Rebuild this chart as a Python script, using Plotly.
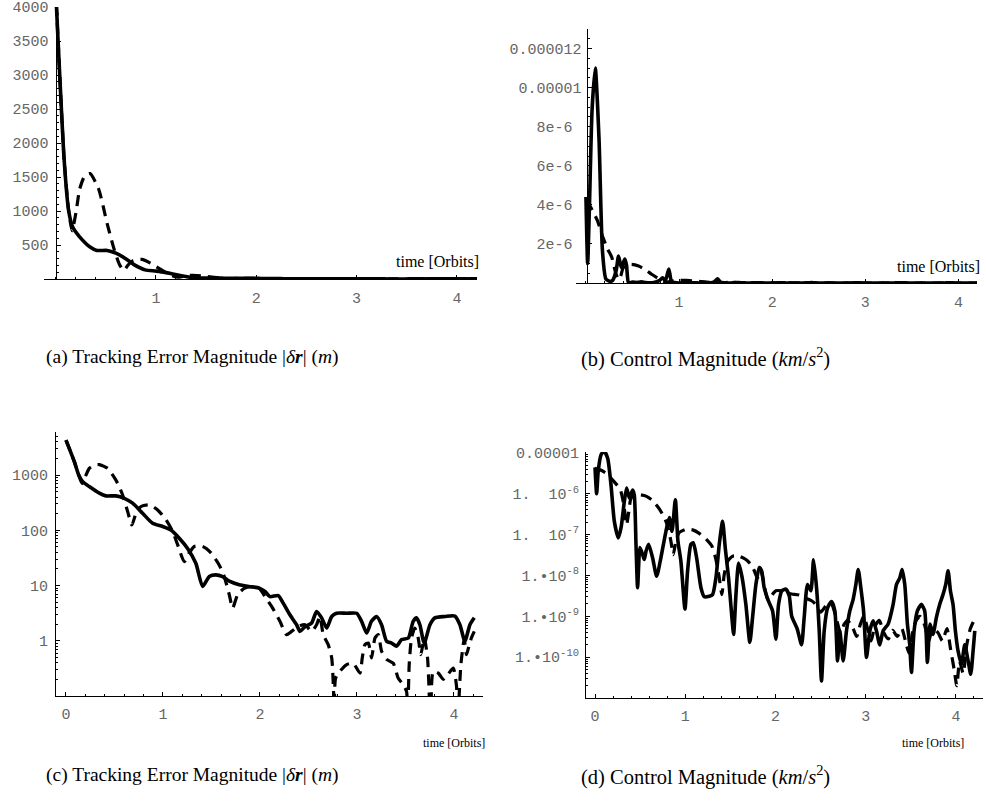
import plotly.graph_objects as go

# ---------------- data ----------------
# Tracking error magnitude |dr| (m) vs time (orbits)
err_solid_t = [0, 0.086, 0.131, 0.172, 0.24, 0.344, 0.412, 0.515, 0.601, 0.687, 0.79, 0.893, 0.997,
               1.082, 1.168, 1.254, 1.34, 1.409, 1.478, 1.546, 1.615, 1.684, 1.787, 1.89, 1.993,
               2.052, 2.103, 2.189, 2.24, 2.309, 2.378, 2.412, 2.464, 2.533, 2.584, 2.636, 2.688,
               2.74, 2.79, 2.894, 2.997, 3.048, 3.1, 3.15, 3.203, 3.254, 3.306, 3.357, 3.409,
               3.461, 3.53, 3.58, 3.615, 3.649, 3.694, 3.753, 3.804, 3.907, 4.01, 4.062, 4.113,
               4.165, 4.21]
err_solid_v = [4300, 1750, 1000, 760, 620, 470, 420, 420, 380, 310, 204, 134, 117,
               101, 72, 47, 25, 9.6, 14.6, 15.6, 14.5, 12, 10.3, 9.6, 9.0,
               7.8, 6.3, 6.6, 4.8, 2.95, 1.95, 1.48, 1.8, 2.1, 3.4, 2.6, 1.7,
               2.75, 3.15, 3.15, 3.15, 2.25, 1.38, 2.25, 2.75, 1.95, 0.98, 0.91, 0.8,
               1.05, 1.12, 2.25, 2.6, 1.95, 0.91, 1.95, 2.6, 2.75, 2.8, 1.95, 0.98,
               1.95, 2.6]

err_dash_t = [0, 0.086, 0.131, 0.165, 0.206, 0.24, 0.292, 0.344, 0.43, 0.515, 0.584, 0.636, 0.68,
              0.722, 0.773, 0.859, 0.945, 1.031, 1.1, 1.151, 1.22, 1.271, 1.323, 1.409, 1.495,
              1.581, 1.632, 1.684, 1.718, 1.77, 1.838, 1.907, 1.993, 2.052, 2.12, 2.206, 2.275,
              2.327, 2.395, 2.464, 2.533, 2.584, 2.618, 2.653, 2.704, 2.74, 2.759, 2.766, 2.78,
              2.825, 2.894, 2.962, 3.031, 3.055, 3.082, 3.117, 3.151, 3.186, 3.22, 3.254, 3.306,
              3.375, 3.426, 3.478, 3.512, 3.522, 3.539, 3.563, 3.597, 3.632, 3.659, 3.694, 3.728,
              3.76, 3.787, 3.839, 3.89, 3.942, 3.993, 4.027, 4.037, 4.072, 4.106, 4.13, 4.154,
              4.18, 4.21]
err_dash_v = [4300, 1750, 1000, 710, 1000, 1320, 1520, 1550, 1320, 810, 436, 218, 125,
              204, 270, 288, 234, 155, 95, 55, 27, 39, 51, 51, 39,
              23.4, 14.5, 6.8, 3.9, 6.8, 8.9, 9.5, 8.9, 6.3, 4.2, 2.25, 1.29,
              1.48, 1.82, 1.95, 1.48, 1.95, 2.75, 1.29, 0.85, 0.49, 0.12, 0.03, 0.21,
              0.28, 0.37, 0.39, 0.26, 0.49, 0.85, 0.91, 0.49, 1.12, 1.29, 0.65, 0.46,
              0.39, 0.21, 0.16, 0.12, 0.03, 0.37, 1.12, 1.7, 1.12, 0.56, 1.12, 0.49,
              0.03, 0.28, 0.26, 0.2, 0.25, 0.32, 0.15, 0.03, 0.37, 1.05, 0.56, 0.79,
              1.12, 1.48]

# Control magnitude (km/s^2) vs time (orbits)
ctl_solid_t = [0, 0.018, 0.035, 0.066, 0.10, 0.14, 0.177, 0.214, 0.258, 0.288, 0.325, 0.35, 0.38,
               0.417, 0.435, 0.454, 0.472, 0.498, 0.528, 0.546, 0.565, 0.594, 0.638, 0.683, 0.73,
               0.786, 0.823, 0.853, 0.89, 0.919, 0.952, 0.997, 1.026, 1.063, 1.089, 1.126, 1.174,
               1.211, 1.266, 1.303, 1.34, 1.377, 1.414, 1.443, 1.48, 1.517, 1.536, 1.562, 1.591,
               1.628, 1.672, 1.716, 1.746, 1.783, 1.82, 1.846, 1.875, 1.924, 1.968, 2.005, 2.034,
               2.071, 2.115, 2.152, 2.18, 2.24, 2.289, 2.318, 2.355, 2.392, 2.422, 2.455, 2.485,
               2.51, 2.54, 2.577, 2.621, 2.658, 2.688, 2.713, 2.75, 2.787, 2.824, 2.861, 2.891,
               2.917, 2.946, 2.976, 3.009, 3.046, 3.083, 3.119, 3.156, 3.193, 3.249, 3.304, 3.341,
               3.378, 3.403, 3.433, 3.462, 3.488, 3.507, 3.536, 3.573, 3.617, 3.654, 3.684, 3.713,
               3.746, 3.783, 3.82, 3.857, 3.887, 3.913, 3.939, 3.968, 3.994, 4.024, 4.061, 4.098,
               4.135, 4.164, 4.19, 4.209]
ctl_solid_v = [4.4e-6, 1.0e-6, 3.5e-6, 8.9e-6, 1.1e-5, 7.4e-6, 1.66e-6, 2.1e-7, 8.3e-8, 1.45e-7,
               6.5e-7, 1.38e-6, 7.9e-7, 1.23e-6, 9.3e-7, 5.8e-8, 5.0e-9, 4.8e-8, 3.2e-8, 2.45e-8,
               3.9e-8, 5.8e-8, 2.7e-8, 9.5e-9, 2.7e-8, 1.2e-7, 2.6e-7, 1.2e-7, 7.1e-7, 6.9e-8,
               2.2e-8, 1.5e-9, 1.3e-8, 5.8e-8, 6.3e-8, 2.7e-8, 5.0e-9, 3.0e-9, 3.1e-9, 3.4e-9,
               8.7e-9, 5.8e-8, 2.1e-7, 4.8e-8, 8.7e-9, 9.3e-10, 3.6e-10, 3.4e-9, 2.0e-8, 9.5e-9,
               1.95e-9, 2.3e-10, 9.3e-10, 6.0e-9, 1.55e-8, 1.3e-8, 5.0e-9, 2.3e-9, 1.35e-9, 2.75e-10,
               1.95e-9, 4.2e-9, 4.6e-9, 3.2e-9, 1.0e-9, 5.0e-10, 2.0e-10, 9.3e-10, 6.0e-9, 4.2e-9,
               2.4e-8, 5.0e-9, 4.4e-10, 2.6e-11, 4.4e-10, 1.6e-9, 2.3e-9, 1.35e-9, 8.1e-11, 4.4e-10,
               8.1e-11, 4.4e-10, 1.35e-9, 2.6e-9, 6.0e-9, 1.4e-8, 5.0e-9, 1.35e-9, 9.8e-11, 4.4e-10,
               7.8e-10, 4.4e-10, 2.0e-10, 4.4e-10, 6.5e-10, 1.95e-9, 6.0e-9, 8.7e-9, 1.4e-8, 6.0e-9,
               6.5e-10, 2.0e-10, 4.2e-11, 4.4e-10, 1.35e-9, 1.95e-9, 1.35e-9, 7.4e-11, 6.5e-10, 3.6e-10,
               9.3e-10, 1.95e-9, 3.4e-9, 6.0e-9, 1.3e-8, 4.2e-9, 1.95e-9, 4.4e-10, 1.4e-10, 6.8e-11,
               2.0e-10, 8.1e-11, 3.8e-11, 1.4e-10, 4.4e-10]

ctl_dash_t = [0, 0.048, 0.122, 0.177, 0.232, 0.277, 0.306, 0.325, 0.35, 0.373, 0.398, 0.435, 0.49,
              0.565, 0.638, 0.705, 0.768, 0.805, 0.841, 0.867, 0.897, 0.934, 1.008, 1.082, 1.155,
              1.229, 1.296, 1.34, 1.377, 1.406, 1.432, 1.469, 1.525, 1.598, 1.672, 1.728, 1.765,
              1.80, 1.838, 1.875, 1.912, 1.949, 2.005, 2.06, 2.115, 2.18, 2.26, 2.33, 2.40, 2.44,
              2.50, 2.56, 2.62, 2.68, 2.72, 2.76, 2.80, 2.86, 2.90, 2.94, 2.98, 3.02, 3.06, 3.10,
              3.15, 3.20, 3.25, 3.30, 3.35, 3.40, 3.44, 3.48, 3.52, 3.56, 3.60, 3.65, 3.70, 3.74,
              3.80, 3.85, 3.90, 3.94, 3.98, 4.01, 4.04, 4.08, 4.12, 4.16, 4.20]
ctl_dash_v = [4.2e-6, 3.9e-6, 3.2e-6, 2.4e-6, 1.74e-6, 1.32e-6, 7.6e-7, 4.3e-7, 1.74e-7, 3.5e-7,
              7.6e-7, 9.1e-7, 9.5e-7, 8.7e-7, 6.8e-7, 4.5e-7, 2.6e-7, 1.6e-7, 6.9e-8, 3.2e-8,
              6.9e-8, 1.12e-7, 1.35e-7, 1.3e-7, 1.07e-7, 7.8e-8, 5.2e-8, 2.45e-8, 8.7e-9, 3.4e-9,
              1.05e-8, 2.2e-8, 2.95e-8, 2.95e-8, 2.45e-8, 1.86e-8, 1.3e-8, 8.7e-9, 1.3e-8, 6.0e-9,
              2.6e-9, 3.1e-9, 4.2e-9, 4.2e-9, 3.8e-9, 3.5e-9, 3.3e-9, 2.8e-9, 2.4e-9, 2.0e-9,
              1.26e-9, 1.8e-9, 2.0e-9, 7.9e-10, 4.0e-10, 6.3e-10, 7.9e-10, 5.0e-10, 3.2e-10, 6.3e-10,
              1.0e-9, 5.0e-10, 2.5e-10, 5.6e-10, 7.9e-10, 4.0e-10, 2.8e-10, 4.5e-10, 3.2e-10, 5.0e-10,
              2.5e-10, 1.26e-10, 4.0e-10, 7.9e-10, 1.0e-9, 6.3e-10, 2.5e-10, 5.0e-10, 4.0e-10, 2.5e-10,
              5.0e-10, 1.6e-10, 5.0e-11, 2.0e-11, 7.9e-11, 4.0e-11, 2.0e-10, 5.0e-10, 7.9e-10]

# tick labels
a_yticks = [500, 1000, 1500, 2000, 2500, 3000, 3500, 4000]
b_yticks = [2e-6, 4e-6, 6e-6, 8e-6, 1e-5, 1.2e-5]
b_yticktext = ["2e-6\u00a0", "4e-6\u00a0", "6e-6\u00a0", "8e-6\u00a0", "0.00001", "0.000012"]
c_yticks = [1, 10, 100, 1000]
d_yticks = [1e-10, 1e-9, 1e-8, 1e-7, 1e-6, 1e-5]
d_yticktext = ["1.\u202210<sup>-10</sup>", "1.\u202210<sup>-9</sup>", "1.\u202210<sup>-8</sup>",
               "1.\u00a0\u00a010<sup>-7</sup>", "1.\u00a0\u00a010<sup>-6</sup>", "0.00001"]
x_ticks_ab = [1, 2, 3, 4]
x_ticks_cd = [0, 1, 2, 3, 4]

captions = ["(a) Tracking Error Magnitude |<i>δ</i><b><i>r</i></b>| (<i>m</i>)",
            "(b) Control Magnitude (<i>km</i>/<i>s</i><sup>2</sup>)",
            "(c) Tracking Error Magnitude |<i>δ</i><b><i>r</i></b>| (<i>m</i>)",
            "(d) Control Magnitude (<i>km</i>/<i>s</i><sup>2</sup>)"]
time_label = "time [Orbits]"

# ---------------- figure ----------------
W, H = 986, 809
def X(px):
    return px / W
def Y(py):
    return 1 - py / H

TICKFONT = dict(family="Liberation Mono, Courier New, monospace", size=15, color="#666666")
SERIF = "Liberation Serif, Times New Roman, serif"
SOLID = dict(color="black", width=3.6)
DASH = dict(color="black", width=3.2, dash="11px,7px")

fig = go.Figure()
panels = [
    ("x", "y", err_solid_t, err_solid_v, err_dash_t, err_dash_v),
    ("x2", "y2", ctl_solid_t, ctl_solid_v, ctl_dash_t, ctl_dash_v),
    ("x3", "y3", err_solid_t, err_solid_v, err_dash_t, err_dash_v),
    ("x4", "y4", ctl_solid_t, ctl_solid_v, ctl_dash_t, ctl_dash_v),
]
for xa, ya, st, sv, dt, dv in panels:
    fig.add_trace(go.Scatter(x=dt, y=dv, xaxis=xa, yaxis=ya, mode="lines",
                             line=dict(**DASH, shape="spline", smoothing=0.6),
                             showlegend=False, hoverinfo="skip"))
    fig.add_trace(go.Scatter(x=st, y=sv, xaxis=xa, yaxis=ya, mode="lines",
                             line=dict(**SOLID, shape="spline", smoothing=0.6),
                             showlegend=False, hoverinfo="skip"))

common = dict(showline=True, linecolor="black", linewidth=1, showgrid=False, zeroline=False,
              ticks="inside", ticklen=4, tickwidth=1, tickcolor="black", tickfont=TICKFONT,
              fixedrange=True, automargin=False)
minor_x = dict(ticks="inside", ticklen=2, tickcolor="black", dtick=0.2)

fig.update_layout(
    # (a)
    xaxis=dict(**common, domain=[X(44), X(477)], range=[-0.115, 4.2], anchor="y",
               tickvals=x_ticks_ab, ticklabelstandoff=5, minor=minor_x),
    yaxis=dict(**common, domain=[Y(279), Y(7)], range=[0, 4000], anchor="free",
               position=X(55.5), tickvals=a_yticks, ticklabelstandoff=4,
               minor=dict(ticks="inside", ticklen=2, tickcolor="black", dtick=100)),
    # (b)
    xaxis2=dict(**common, domain=[X(576), X(977)], range=[-0.107, 4.2], anchor="y2",
                tickvals=x_ticks_ab, ticklabelstandoff=5, minor=minor_x),
    yaxis2=dict(**common, domain=[Y(283), Y(29)], range=[0, 1.3e-5], anchor="free",
                position=X(586.5), tickvals=b_yticks, ticktext=b_yticktext, ticklabelstandoff=2,
                minor=dict(ticks="inside", ticklen=2, tickcolor="black", dtick=5e-7)),
    # (c)
    xaxis3=dict(**common, domain=[X(56), X(483)], range=[-0.103, 4.3], anchor="y3",
                tickvals=x_ticks_cd, ticklabelstandoff=4, minor=minor_x),
    yaxis3=dict(**common, type="log", domain=[Y(696), Y(432)], range=[-1, 3.78], anchor="x3",
                tickvals=c_yticks, ticktext=[str(v) for v in c_yticks], ticklabelstandoff=4,
                minor=dict(ticks="inside", ticklen=2, tickcolor="black", dtick="D1")),
    # (d)
    xaxis4=dict(**common, domain=[X(586), X(983)], range=[-0.1, 4.3], anchor="y4",
                tickvals=x_ticks_cd, ticklabelstandoff=4, minor=minor_x),
    yaxis4=dict(**common, type="log", domain=[Y(698), Y(452)], range=[-11, -4.98], anchor="x4",
                tickvals=d_yticks, ticktext=d_yticktext, ticklabelstandoff=3,
                minor=dict(ticks="inside", ticklen=2, tickcolor="black", dtick="D1")),
)

ann = []
time_pos = [(481, 261, 16), (982, 266, 16), (487, 743, 12), (966, 743, 12)]
for tx, ty, fs in time_pos:
    ann.append(dict(text=time_label, x=X(tx), y=Y(ty), xref="paper", yref="paper",
                    xanchor="right", yanchor="middle", showarrow=False,
                    font=dict(family=SERIF, size=fs, color="black")))
cap_pos = [(192, 357, 19.5), (705, 357, 20.5), (192, 775, 19.5), (705, 775, 20.5)]
for txt, (cx, cy, fs) in zip(captions, cap_pos):
    ann.append(dict(text=txt, x=X(cx), y=Y(cy), xref="paper", yref="paper",
                    xanchor="center", yanchor="middle", showarrow=False,
                    font=dict(family=SERIF, size=fs, color="black")))

fig.update_layout(width=W, height=H, margin=dict(l=0, r=0, t=0, b=0),
                  paper_bgcolor="white", plot_bgcolor="white", showlegend=False,
                  annotations=ann)

post = ("document.body.style.margin='0';document.body.style.overflow='hidden';"
        "var gd=document.getElementById('{plot_id}');gd.style.position='absolute';"
        "gd.style.left='0px';gd.style.top='0px';")
fig.write_html("out.html", post_script=post, config={"displayModeBar": False})
